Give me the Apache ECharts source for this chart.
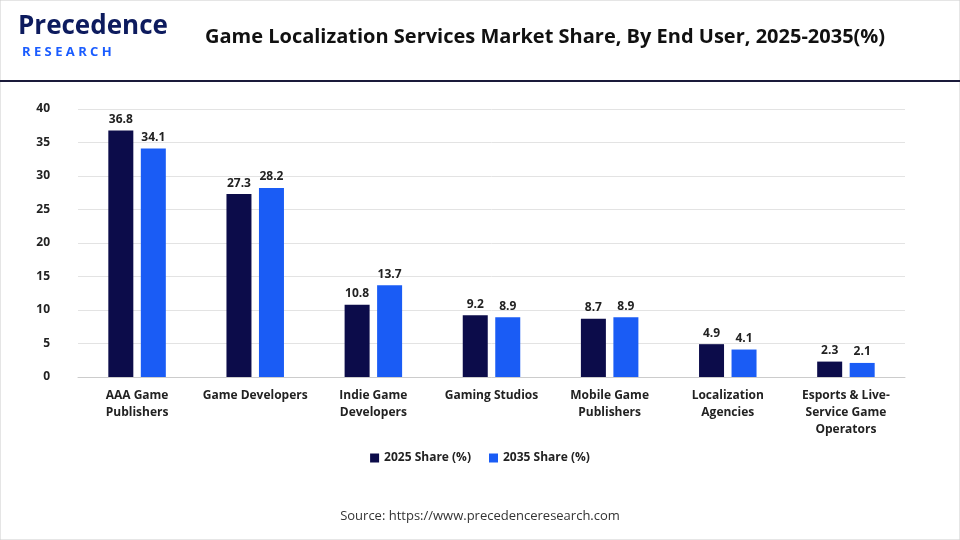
<!DOCTYPE html>
<html><head><meta charset="utf-8">
<script src="https://cdn.jsdelivr.net/npm/echarts@6/dist/echarts.min.js"></script>
<style>html,body{margin:0;padding:0;background:#fff}#c{width:960px;height:540px}</style>
</head><body><div id="c"></div>
<script>
const categories = ["AAA Game\nPublishers","Game Developers","Indie Game\nDevelopers","Gaming Studios","Mobile Game\nPublishers","Localization\nAgencies","Esports & Live-\nService Game\nOperators"];
const share2025 = [36.8,27.3,10.8,9.2,8.7,4.9,2.3];
const share2035 = [34.1,28.2,13.7,8.9,8.9,4.1,2.1];
const yTicks = [0,5,10,15,20,25,30,35,40];
const chart = echarts.init(document.getElementById('c'));
const lbl = {show:true,position:'top',fontFamily:'Open Sans',fontWeight:'bold',fontSize:12,color:'#222',distance:5};
chart.setOption({
  animation:false,
  graphic:[
    {type:'rect',shape:{x:0,y:0,width:960,height:540},style:{fill:'none',stroke:'#ccc',lineWidth:1}},
    {type:'rect',shape:{x:0,y:80,width:960,height:2},style:{fill:'#1a1a3a'}},
    {type:'text',left:18,top:14,style:{text:'Precedence',font:'bold 26px "Open Sans"',fill:'#0d1b5e'}},
    {type:'text',left:22,top:46,style:{text:'R E S E A R C H',font:'bold 13px "Open Sans"',fill:'#1a5cff'}},
    {type:'text',left:205,top:27,style:{text:'Game Localization Services Market Share, By End User, 2025-2035(%)',font:'bold 20px "Open Sans"',fill:'#111'}},
    {type:'text',left:'center',top:510,style:{text:'Source: https://www.precedenceresearch.com',font:'13px "Open Sans"',fill:'#333'}}
  ],
  grid:{left:78,right:55,top:109,bottom:163},
  legend:{bottom:71,left:'center',itemWidth:9,itemHeight:9,icon:'rect',itemGap:18,textStyle:{fontFamily:'Open Sans',fontWeight:'bold',fontSize:12,color:'#222'}},
  xAxis:{type:'category',data:categories,axisTick:{show:false},axisLine:{lineStyle:{color:'#ccc'}},
    axisLabel:{interval:0,fontFamily:'Open Sans',fontWeight:'bold',fontSize:12,color:'#222',lineHeight:17,margin:10}},
  yAxis:{type:'value',min:0,max:40,interval:5,axisLabel:{fontFamily:'Open Sans',fontWeight:'bold',fontSize:12,color:'#222',margin:28},
    splitLine:{lineStyle:{color:'#e3e3e3'}}},
  series:[
    {name:'2025 Share (%)',type:'bar',data:share2025,barWidth:25,barGap:'30%',itemStyle:{color:'#0c0c4a'},label:lbl},
    {name:'2035 Share (%)',type:'bar',data:share2035,barWidth:25,itemStyle:{color:'#1a5cf5'},label:lbl}
  ]
});
</script></body></html>
